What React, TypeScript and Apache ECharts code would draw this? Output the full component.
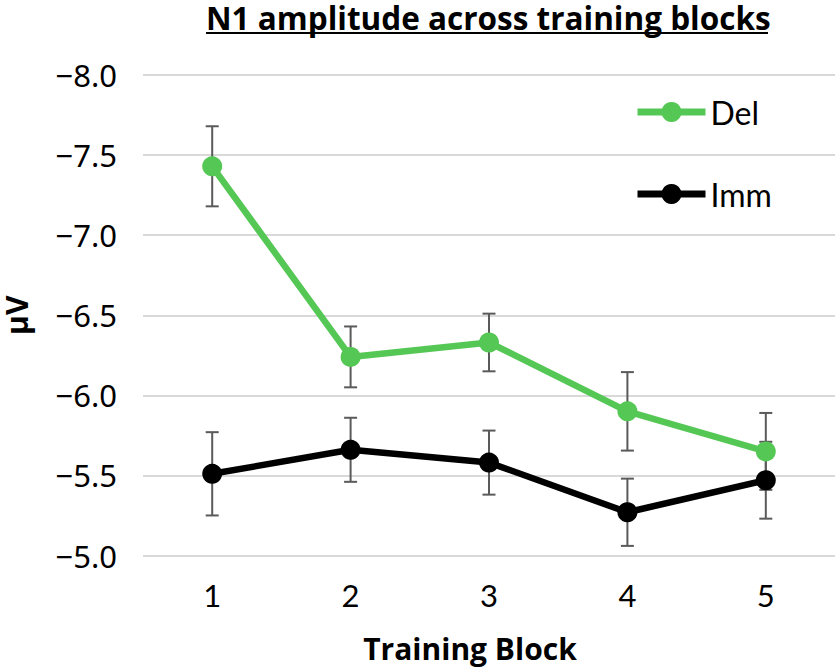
import React, { useEffect, useRef } from "react";
import * as echarts from "echarts";

const categories = ["1", "2", "3", "4", "5"];
const delMean = [-7.43, -6.24, -6.33, -5.9, -5.65];
const delErr = [0.25, 0.19, 0.18, 0.245, 0.24];
const immMean = [-5.51, -5.66, -5.58, -5.27, -5.47];
const immErr = [0.26, 0.2, 0.2, 0.21, 0.24];
const yTicks = { min: -8, max: -5, interval: 0.5 };

const GREEN = "#54c754";
const BLACK = "#000000";
const ERR = "#5a5a5a";
const FONT = "Lato, 'Noto Sans', sans-serif";
const TICK_FONT = "'Noto Sans', Lato, sans-serif";
const BOLD_FONT = "'Open Sans', Lato, sans-serif";

function errSeries(name: string, mean: number[], err: number[]) {
  return {
    type: "custom",
    name: name + " err",
    z: 1,
    silent: true,
    encode: { x: 0, y: [1, 2] },
    data: mean.map((m, i) => [i, m - err[i], m + err[i]]),
    renderItem: (params: any, api: any) => {
      const i = api.value(0);
      const lo = api.coord([i, api.value(1)]);
      const hi = api.coord([i, api.value(2)]);
      const cap = 6.5;
      const style = { stroke: ERR, lineWidth: 2 };
      return {
        type: "group",
        children: [
          { type: "line", shape: { x1: lo[0], y1: lo[1], x2: hi[0], y2: hi[1] }, style },
          { type: "line", shape: { x1: lo[0] - cap, y1: lo[1], x2: lo[0] + cap, y2: lo[1] }, style },
          { type: "line", shape: { x1: hi[0] - cap, y1: hi[1], x2: hi[0] + cap, y2: hi[1] }, style },
        ],
      };
    },
  };
}

export default function App() {
  const ref = useRef<HTMLDivElement>(null);
  useEffect(() => {
    document.body.style.margin = "0";
    if (!ref.current) return;
    const chart = echarts.init(ref.current, null, { renderer: "svg" });
    chart.setOption({
      animation: false,
      backgroundColor: "#ffffff",
      title: {
        text: "N1 amplitude across training blocks",
        left: 206,
        top: 1,
        padding: 0,
        textStyle: {
          fontFamily: BOLD_FONT,
          fontWeight: "bold",
          fontSize: 31.5,
          lineHeight: 32,
          color: "#000",
        },
      },
      graphic: [
        {
          type: "line",
          shape: { x1: 206, y1: 33, x2: 768, y2: 33 },
          style: { stroke: "#000", lineWidth: 2 },
        },
      ],
      legend: {
        orient: "vertical",
        left: 634,
        top: 96,
        padding: 0,
        itemWidth: 68,
        itemHeight: 25,
        itemGap: 50,
        lineStyle: { width: 7 },
        textStyle: { fontFamily: FONT, fontSize: 32, color: "#000" },
        data: ["Del", "Imm"],
      },
      grid: {
        left: 143,
        right: 1,
        top: 75,
        bottom: 114.5,
        containLabel: false,
        outerBoundsMode: "none",
      },
      xAxis: {
        type: "category",
        data: categories,
        boundaryGap: true,
        axisLine: { show: false },
        axisTick: { show: false },
        axisLabel: { fontFamily: FONT, fontSize: 31, color: "#000", margin: 24 },
        name: "Training Block",
        nameLocation: "middle",
        nameGap: 78,
        nameTextStyle: {
          fontFamily: BOLD_FONT,
          fontWeight: "bold",
          fontSize: 30,
          color: "#000",
          padding: [0, 38, 0, 0],
        },
      },
      yAxis: {
        type: "value",
        inverse: true,
        min: yTicks.min,
        max: yTicks.max,
        interval: yTicks.interval,
        axisLine: { show: false },
        axisTick: { show: false },
        splitLine: { lineStyle: { color: "#d9d9d9", width: 2 } },
        axisLabel: {
          fontFamily: TICK_FONT,
          fontSize: 31,
          color: "#000",
          margin: 26,
          formatter: (v: number) => "\u2212" + Math.abs(v).toFixed(1),
        },
        name: "µV",
        nameLocation: "middle",
        nameRotate: 90,
        nameGap: 112,
        nameTextStyle: { fontFamily: BOLD_FONT, fontWeight: "bold", fontSize: 30, color: "#000" },
      },
      series: [
        errSeries("Del", delMean, delErr),
        errSeries("Imm", immMean, immErr),
        {
          type: "line",
          name: "Del",
          data: delMean,
          z: 3,
          symbol: "circle",
          symbolSize: 20,
          lineStyle: { color: GREEN, width: 6.5 },
          itemStyle: { color: GREEN },
        },
        {
          type: "line",
          name: "Imm",
          data: immMean,
          z: 3,
          symbol: "circle",
          symbolSize: 20,
          lineStyle: { color: BLACK, width: 6.5 },
          itemStyle: { color: BLACK },
        },
      ],
    });
    return () => chart.dispose();
  }, []);
  return <div ref={ref} style={{ width: 836, height: 670 }} />;
}
